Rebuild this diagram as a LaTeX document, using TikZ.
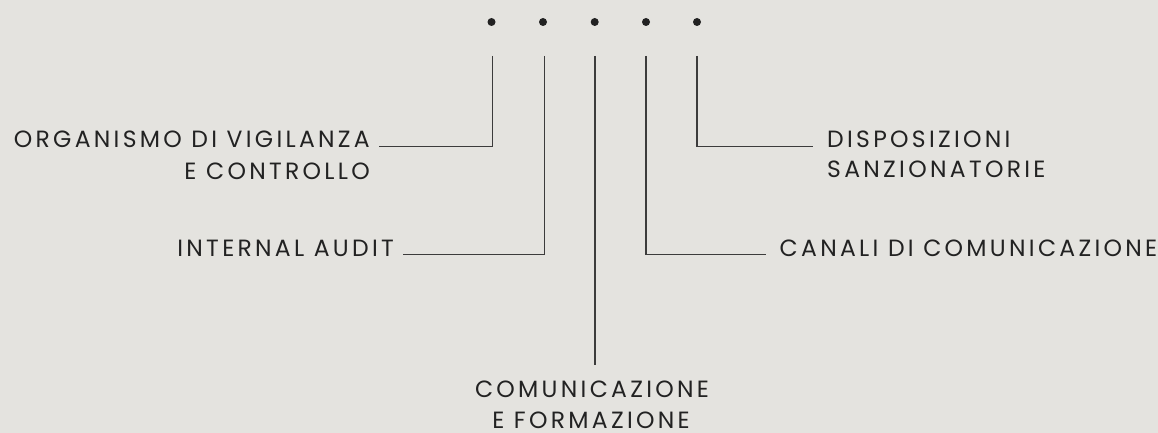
\documentclass[tikz,border=0pt]{standalone}
\usepackage{fontspec}
\setmainfont{Poppins}[LetterSpace=14]
\definecolor{bg}{RGB}{228,227,223}
\definecolor{ink}{RGB}{34,34,34}
\definecolor{rule}{RGB}{60,60,60}
\begin{document}
\begin{tikzpicture}[x=1pt,y=-1pt,
  lbl/.style={inner sep=0pt,text=ink,text depth=0pt,font=\fontsize{23.5}{28}\selectfont},
  conn/.style={draw=rule,line width=1.1pt},
  dot/.style={circle,fill=ink,inner sep=0pt,minimum size=8pt}]
\fill[bg] (0,0) rectangle (1158,433);
\useasboundingbox (0,0) rectangle (1158,433);
% dots
\foreach \i/\x in {1/491.5,2/543,3/594.7,4/646,5/697}{
  \node[dot] (d\i) at (\x,22) {};
}
% line tops
\coordinate (t1) at (492.5,56);
\coordinate (t2) at (544.5,56);
\coordinate (t3) at (595,56);
\coordinate (t4) at (646,56);
\coordinate (t5) at (697,56);
% line ends
\coordinate (e1) at (379,146.5);
\coordinate (e2) at (402.5,254.5);
\coordinate (e3) at (595,365);
\coordinate (e4) at (766,254.5);
\coordinate (e5) at (812.5,146.5);
% labels
\node[lbl,anchor=base east] (org1) at (370,147) {ORGANISMO DI VIGILANZA};
\node[lbl,anchor=base east] (org2) at (370,179.5) {E CONTROLLO};
\node[lbl,anchor=base east] (ia) at (394,256.5) {INTERNAL AUDIT};
\node[lbl,anchor=base west] (dis1) at (827,147) {DISPOSIZIONI};
\node[lbl,anchor=base west] (dis2) at (827,177.5) {SANZIONATORIE};
\node[lbl,anchor=base west] (can) at (779.5,256.5) {CANALI DI COMUNICAZIONE};
\node[lbl,anchor=base] (com1) at (592,397) {COMUNICAZIONE};
\node[lbl,anchor=base] (com2) at (591,428) {E FORMAZIONE};
% connectors
\draw[conn] (t1) |- (e1);
\draw[conn] (t2) |- (e2);
\draw[conn] (t3) -- (e3);
\draw[conn] (t4) |- (e4);
\draw[conn] (t5) |- (e5);
\end{tikzpicture}
\end{document}
